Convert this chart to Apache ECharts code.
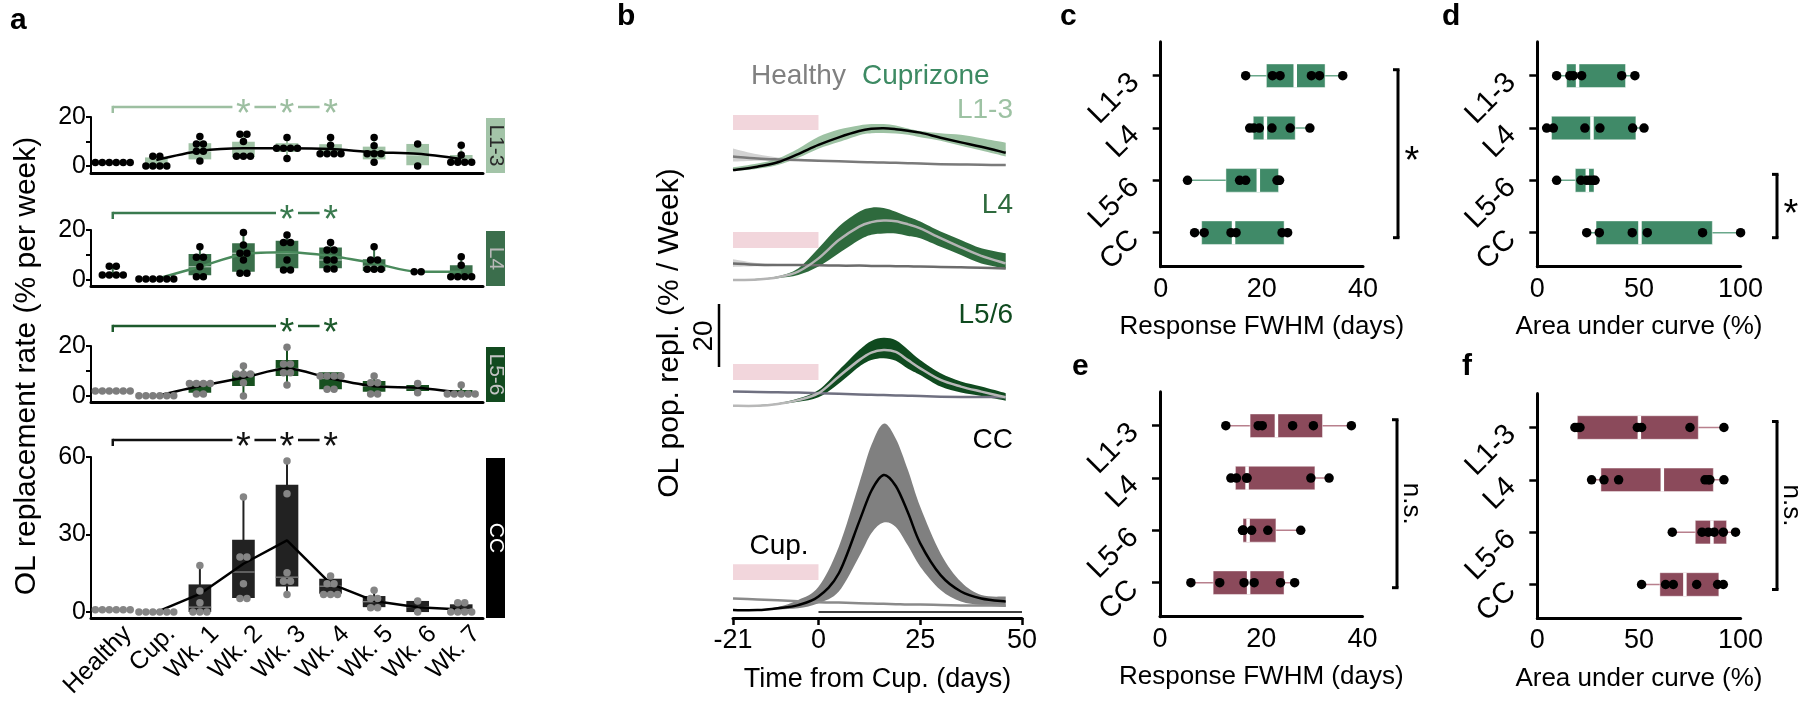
<!DOCTYPE html>
<html><head><meta charset="utf-8">
<script src="https://cdn.jsdelivr.net/npm/echarts@6/dist/echarts.min.js"></script>
<style>html,body{margin:0;padding:0;background:#fff}#c{width:1800px;height:705px}</style>
</head><body><div id="c"></div>
<script>
const FONT = 'Liberation Sans, Arial, sans-serif';

// ---------------- Panel a data ----------------
const groups = ['Healthy','Cup.','Wk. 1','Wk. 2','Wk. 3','Wk. 4','Wk. 5','Wk. 6','Wk. 7'];

const a13Pts = [[1.4,1.4,1.4,1.4,1.4,1.4],[4,4,0,0,0,0],[12,9,9,6,6,2],[13,13,10,4,4,4],[11.6,7.2,7.2,7.2,7.2,3.1],[11.6,8.5,5,5,5,5],[11.6,8.3,5,5,5,1.5],[9,0],[8.5,4.5,1.5,1.5,1.5,1.5]];
const a13Q1  = [1.4,-0.5,2.7,3.6,5.7,4.5,2.7,0.3,1.1];
const a13Med = [1.4,0,6,7,7.2,5,5,4.5,1.5];
const a13Q3  = [1.4,3.5,9.3,9.9,9.3,8.9,7.9,9,4.5];
const a13Mean = [null,2.4,6.1,7.2,7.2,6.9,5.6,5.0,2.9];
const a13Sig = [3,4,5];

const a4Pts = [[5.5,5.5,2,2,2,2],[0.4,0.4,0.4,0.4,0.4,0.4],[13.3,9.1,9.1,5.3,1.3,1.3],[19,14,10.7,10.7,8,2.7,2.7],[18,15,15,8,4,4],[15,12,12,8,8,4.4,4.4],[13.3,8,8,4.3,4.3,4.3],[3.3,3.3],[9.3,5.9,1.3,1.3,1.3,1.3]];
const a4Q1  = [2,0.4,1.9,3.3,4.7,4.7,3.6,3.3,1.1];
const a4Med = [2,0.4,5.3,10.7,10.7,8,5.5,3.3,1.3];
const a4Q3  = [2,0.4,10.4,14.7,15.7,13,8.3,3.3,5.9];
const a4Mean = [null,0.4,5.3,10.3,11.1,9.6,6.7,3.3,3.3];
const a4Sig = [4,5];

const a56Pts = [[2,2,2,2,2,2],[0.1,0.1,0.1,0.1,0.1,0.1],[5,5,5,5,0.8,0.8],[12,8.8,8.8,8.8,5.3,0],[19.5,12.8,12.8,9.3,9.3,4.4],[8,8,8,8,2.7,2.7],[8,5.3,5.3,0.8,0.8],[5,1.3],[4.4,0.8,0.8,0.8,0.8,0.8]];
const a56Q1  = [2,0.1,1.3,4,8,2.7,1.7,2,0.5];
const a56Med = [2,0.1,5,8.8,11,7,4,3,0.8];
const a56Q3  = [2,0.1,5.7,9.3,14.4,9.5,6,4.4,2.4];
const a56Mean = [null,0,4,7.3,11,7,3.9,3.3,1.3];
const a56Sig = [4,5];

const accPts = [[0.9,0.9,0.9,0.9,0.9,0.9],[0,0,0,0,0,0],[18,8.1,3.6,0,0,0],[44.5,21.3,21.3,11,5.2,5.2],[58.5,45.8,15.2,11.9,11.9,6.8],[14,11,11,6.8,6.8,6.8],[8.4,5.2,5.2,1.7,1.7],[4.3,0],[3.6,3.6,0,0,0,0]];
const accQ1  = [0.9,0,0,5.4,9.9,7.1,1.9,0,0];
const accMed = [0.9,0,1.9,15.5,13.5,10,4,2,1];
const accQ3  = [0.9,0,10.7,28,49.3,12.9,6.2,4.3,3];
const accMean = [null,0,7,18.7,27.7,11,4.3,1.9,1];
const accSig = [3,4,5];

// ---------------- Panel b data ----------------
const days = [-21,-15,-10,-5,0,5,10,13,16,19,22,25,30,35,40,46];
const b13Mean = [0.6,1.7,3.1,5.7,8.6,11,13,13.7,13.9,13.6,13.1,12.5,10.9,9.4,8,6.1];
const b13Up   = [1.5,2.7,4.3,7.4,11.2,13.5,14.8,15.2,15.2,14.8,13.8,13,12.3,11.8,10.7,9.3];
const b13Lo   = [0.2,1,2.2,4.5,7.4,9.5,11.7,12.3,12.4,12.2,11.8,11,9.9,8.3,6.8,4.9];
const b13H    = [4.9,4.3,4,3.8,3.6,3.4,3.2,3.1,3,2.9,2.8,2.7,2.5,2.4,2.3,2.2];
const b13HUp  = [7.5,5.6,4.6,4.2,3.9,3.6,3.4,3.3,3.2,3.1,3.0,2.9,2.7,2.6,2.5,2.4];
const b13HLo  = [3.3,3.6,3.5,3.4,3.3,3.2,3.0,2.9,2.8,2.7,2.6,2.5,2.3,2.2,2.1,2.0];

const b4Mean = [0.6,0.8,1.5,3.3,7.5,13.3,17.6,19,19.5,19.3,18.3,17,13.9,11,8.3,5.9];
const b4Up   = [0.8,1,1.8,4.3,10.7,17.6,22.3,23.6,23.5,22.3,20.7,19.2,16,13.3,10.7,9.1];
const b4Lo   = [0.4,0.6,1.2,2.2,4.9,9.1,13.3,15,15.4,15.4,14.6,13.9,11.2,8.6,5.9,4.3];
const b4H    = [5.9,5.5,5.4,5.4,5.3,5.2,5.2,5.1,5.1,5,5,4.9,4.8,4.7,4.5,4.3];
const b4HUp  = [7.2,6,5.7,5.6,5.5,5.4,5.4,5.3,5.3,5.2,5.2,5.1,5,4.9,4.8,4.6];
const b4HLo  = [4.8,5,5.1,5.2,5.1,5,5,4.9,4.9,4.8,4.8,4.7,4.6,4.5,4.3,4];

const b56Mean = [0.7,0.7,1.3,2.5,4.7,10,15.2,17.6,18.4,17.8,15.2,12.6,8.9,6.8,5.2,3.4];
const b56Up   = [0.9,0.9,1.5,3,5.7,12,18.4,21.3,22.3,21.5,18.5,15.2,11,8.4,6.8,4.7];
const b56Lo   = [0.5,0.5,1.1,2,3.4,7.8,13.1,15.2,15.8,15,12.5,10.5,6.8,4.9,3.8,2.3];
const b56H    = [5.2,5.1,5,4.9,4.7,4.5,4.3,4.2,4.1,4,3.9,3.8,3.6,3.5,3.5,3.4];

const bccMean = [0.6,0.6,1.2,2.2,4.9,12.3,28.7,38.5,43.5,40,31.5,21.8,11.7,6.5,4.3,3.3];
const bccUp   = [0.8,0.8,1.6,3.8,8,20.7,40.8,53,59.8,55,45,33.4,18.6,9.6,5.4,4.9];
const bccLo   = [0.4,0.4,0.8,1.2,2.8,6.5,17.6,25,28.4,27,21,14.4,7,3.3,2.2,1.7];
const bccH    = [4.3,4,3.7,3.4,3.1,3,2.8,2.7,2.6,2.5,2.4,2.4,2.2,2.1,2.1,2];
const bTicks = [-21,0,25,50];

// ---------------- Panels c-f data ----------------
const cats = ['L1-3','L4','L5-6','CC'];
const cPts = [[16.8,22.1,23.6,29.8,31.4,36],[17.6,18.4,19.5,22,25.6,29.5],[5.3,15.6,16.8,23,23.3,23.5],[6.7,8.6,13.9,14.9,24,25.1]];
const cQ1 = [20.9,18.3,12.9,8.1], cMed = [26.6,20.7,19.3,14.4], cQ3 = [32.5,26.6,23.3,24.4];
const dPts = [[9.5,16,17.7,21.8,41.5,48],[4.6,7.9,23.4,30.8,46.9,52.5],[9.5,21.5,24.3,25.9,27.5,28.4],[24.3,30.5,46.7,54.1,81.3,100]];
const dQ1 = [14.4,7,18.7,28.9], dMed = [19.8,26.9,24.6,50.5], dQ3 = [43.4,48.5,27.9,86.1];
const ePts = [[13,19.4,20.2,26.2,30.3,37.8],[14,15.1,17.1,17.2,29.8,33.4],[16.3,16.4,16.5,18.1,21.3,27.8],[6.1,11.8,16.6,18.6,23.8,26.6]];
const eQ1 = [17.8,14.9,16.4,10.5], eMed = [23,17.2,17.4,17.5], eQ3 = [32.1,30.6,22.9,24.5];
const fPts = [[18.5,19.8,21,49.2,51.3,75.1,91.8],[26.7,32.8,40,82.5,84.1,84.9,91.8],[66.4,81,84.1,87,91.5,97.5],[51.3,63.1,66.9,78.4,88.7,91.5]];
const fQ1 = [19.7,31.3,77.7,60.3], fMed = [50.2,61.5,85.9,72.6], fQ3 = [79.2,86.6,93.1,89.3];

// ---------------- layout ----------------
const aData = [
  {pts:a13Pts,q1:a13Q1,med:a13Med,q3:a13Q3,mean:a13Mean,sig:a13Sig,tag:'L1-3'},
  {pts:a4Pts,q1:a4Q1,med:a4Med,q3:a4Q3,mean:a4Mean,sig:a4Sig,tag:'L4'},
  {pts:a56Pts,q1:a56Q1,med:a56Med,q3:a56Q3,mean:a56Mean,sig:a56Sig,tag:'L5-6'},
  {pts:accPts,q1:accQ1,med:accMed,q3:accQ3,mean:accMean,sig:accSig,tag:'CC'}
];
const aLay = [
  {top:117,height:56,min:-2.86,max:20,ticks:[0,10,20],labels:[0,20],box:'#a1c3a6',med:'rgba(255,255,255,0.55)',dot:'#000',line:'#000',smooth:0.3,br:'#9dbfa1',brY:107,tagFill:'#a3c4a8',tagColor:'#2a2a2a'},
  {top:230,height:56,min:-2.4,max:20,ticks:[0,10,20],labels:[0,20],box:'#3a6f4a',med:'rgba(255,255,255,0.6)',dot:'#000',line:'#4a8a5c',smooth:0.3,br:'#3a7a4f',brY:213,tagFill:'#3b6e4c',tagColor:'#b8b8b8'},
  {top:346,height:56,min:-2.4,max:20,ticks:[0,10,20],labels:[0,20],box:'#17501f',med:'rgba(255,255,255,0.5)',dot:'#7d7d7d',line:'#000',smooth:0.3,br:'#1d5a2c',brY:326,tagFill:'#124a1f',tagColor:'#c4c4c4'},
  {top:457,height:161,min:-2.3,max:60,ticks:[0,30,60],labels:[0,30,60],box:'#222222',med:'#8a8a8a',dot:'#858585',line:'#000',smooth:0,br:'#111',brY:440,tagFill:'#000',tagColor:'#fff'}
];
const bData = [
  {mean:b13Mean,up:b13Up,lo:b13Lo,h:b13H,hUp:b13HUp,hLo:b13HLo,label:'L1-3'},
  {mean:b4Mean,up:b4Up,lo:b4Lo,h:b4H,hUp:b4HUp,hLo:b4HLo,label:'L4'},
  {mean:b56Mean,up:b56Up,lo:b56Lo,h:b56H,label:'L5/6'},
  {mean:bccMean,up:bccUp,lo:bccLo,h:bccH,label:'CC'}
];
const bLay = [
  {top:109,height:63,min:0,max:20,band:'#9dc2a3',mean:'#000',healthy:'#7a7a7a',cup:[13.3,18.1],labelColor:'#9dc2a3',labelY:110},
  {top:203.25,height:78.75,min:0,max:25,band:'#2e6a3d',mean:'#b4b4b4',healthy:'#6c6c6c',cup:[10.8,15.9],labelColor:'#2e6a3d',labelY:205},
  {top:335.55,height:72.45,min:0,max:23,band:'#0f4a1f',mean:'#b8b8b8',healthy:'#6f7080',cup:[8.9,14],labelColor:'#0f4a1f',labelY:315},
  {top:416.7,height:201.3,min:-1.9,max:62,band:'#808080',mean:'#000',healthy:'#8a8a8a',cup:[10.2,15.2],labelColor:'#000',labelY:440,zeroLine:true}
];
const cfData = [
  {pts:cPts,q1:cQ1,med:cMed,q3:cQ3},
  {pts:dPts,q1:dQ1,med:dMed,q3:dQ3},
  {pts:ePts,q1:eQ1,med:eMed,q3:eQ3},
  {pts:fPts,q1:fQ1,med:fMed,q3:fQ3}
];
const GREEN = '#408a68', GREENW = '#6aa88b', MAROON = '#8b4a5b', MAROONW = '#b8808d';
const cfLay = [
  {left:1160.7,top:41.7,width:202.3,max:40,interval:20,name:'Response FWHM (days)',fill:GREEN,whisk:GREENW,brX:1398,brFrom:1,brTo:4,brText:'*'},
  {left:1537.3,top:41.7,width:203.3,max:100,interval:50,name:'Area under curve (%)',fill:GREEN,whisk:GREENW,brX:1777,brFrom:3,brTo:4,brText:'*'},
  {left:1160,top:391.7,width:202.5,max:40,interval:20,name:'Response FWHM (days)',fill:MAROON,whisk:MAROONW,brX:1397,brFrom:1,brTo:4,brText:'n.s.'},
  {left:1537.3,top:393.5,width:203.3,max:100,interval:50,name:'Area under curve (%)',fill:MAROON,whisk:MAROONW,brX:1777,brFrom:1,brTo:4,brText:'n.s.'}
];

// ---------------- helpers ----------------
function swarm(vals, i, spacing){
  const s = vals.slice().sort((a,b)=>b-a);
  const gs = []; let cur = [s[0]];
  for (let k=1;k<s.length;k++){ if (Math.abs(s[k]-cur[0])<0.6) cur.push(s[k]); else { gs.push(cur); cur=[s[k]]; } }
  gs.push(cur);
  const out = [];
  gs.forEach(g=>g.forEach((v,j)=>out.push([i+(j-(g.length-1)/2)*spacing, v])));
  return out;
}
function vBox(color, medColor){
  return function(params, api){
    const i=api.value(0), q1=api.value(1), med=api.value(2), q3=api.value(3), lo=api.value(4), hi=api.value(5);
    const w = api.size([0.52,0])[0];
    const pT=api.coord([i,q3]), pB=api.coord([i,q1]), pM=api.coord([i,med]), pL=api.coord([i,lo]), pH=api.coord([i,hi]);
    const x = pT[0];
    const ch = [{type:'line',shape:{x1:x,y1:pH[1],x2:x,y2:pL[1]},style:{stroke:color,lineWidth:2}}];
    if (pB[1]-pT[1] > 1) {
      ch.push({type:'rect',shape:{x:x-w/2,y:pT[1],width:w,height:pB[1]-pT[1]},style:{fill:color}});
      ch.push({type:'line',shape:{x1:x-w/2,y1:pM[1],x2:x+w/2,y2:pM[1]},style:{stroke:medColor,lineWidth:1.2}});
    }
    return {type:'group',children:ch};
  };
}
function hBox(fill, whisk){
  return function(params, api){
    const c=api.value(0), q1=api.value(1), med=api.value(2), q3=api.value(3), lo=api.value(4), hi=api.value(5);
    const p1=api.coord([q1,c]), p3=api.coord([q3,c]), pm=api.coord([med,c]), pl=api.coord([lo,c]), ph=api.coord([hi,c]);
    const h = Math.abs(api.size([0,0.45])[1]);
    const y = p1[1];
    return {type:'group',children:[
      {type:'line',shape:{x1:pl[0],y1:y,x2:ph[0],y2:y},style:{stroke:whisk,lineWidth:1.5}},
      {type:'rect',shape:{x:p1[0],y:y-h/2,width:p3[0]-p1[0],height:h},style:{fill:fill,stroke:'rgba(255,255,255,0.45)',lineWidth:1}},
      {type:'line',shape:{x1:pm[0],y1:y-h/2,x2:pm[0],y2:y+h/2},style:{stroke:'#fff',lineWidth:3.5}}
    ]};
  };
}
// Catmull-Rom cubic segments through pixel points
function crSeg(P){
  let s='';
  for (let i=0;i<P.length-1;i++){
    const p0=P[Math.max(i-1,0)], p1=P[i], p2=P[i+1], p3=P[Math.min(i+2,P.length-1)];
    const c1=[p1[0]+(p2[0]-p0[0])/6, p1[1]+(p2[1]-p0[1])/6];
    const c2=[p2[0]-(p3[0]-p1[0])/6, p2[1]-(p3[1]-p1[1])/6];
    s+=' C'+c1[0].toFixed(2)+' '+c1[1].toFixed(2)+' '+c2[0].toFixed(2)+' '+c2[1].toFixed(2)+' '+p2[0].toFixed(2)+' '+p2[1].toFixed(2);
  }
  return s;
}
function curvePath(api, arr){
  const P = days.map((d,i)=>api.coord([d, arr[i]]));
  return 'M'+P[0][0].toFixed(2)+' '+P[0][1].toFixed(2)+crSeg(P);
}
function bandPath(api, lo, up){
  const U = days.map((d,i)=>api.coord([d, up[i]]));
  const L = days.map((d,i)=>api.coord([d, lo[i]])).reverse();
  return 'M'+U[0][0].toFixed(2)+' '+U[0][1].toFixed(2)+crSeg(U)+' L'+L[0][0].toFixed(2)+' '+L[0][1].toFixed(2)+crSeg(L)+' Z';
}
function bPanel(D, L){
  return function(params, api){
    if (params.dataIndex !== 0) return null;
    const ch = [];
    const c0 = api.coord([-21, L.cup[1]]), c1 = api.coord([0, L.cup[0]]);
    ch.push({type:'rect', shape:{x:c0[0], y:c0[1], width:c1[0]-c0[0], height:c1[1]-c0[1]}, style:{fill:'#f2d6dc'}});
    if (D.hUp) ch.push({type:'path', shape:{pathData:bandPath(api, D.hLo, D.hUp)}, style:{fill:'#d3d3d3'}});
    ch.push({type:'path', shape:{pathData:bandPath(api, D.lo, D.up)}, style:{fill:L.band}});
    ch.push({type:'path', shape:{pathData:curvePath(api, D.h)}, style:{fill:null, stroke:L.healthy, lineWidth:2.5}});
    ch.push({type:'path', shape:{pathData:curvePath(api, D.mean)}, style:{fill:null, stroke:L.mean, lineWidth:2.5}});
    if (L.zeroLine) {
      const z0 = api.coord([0,0]), z1 = api.coord([50,0]);
      ch.push({type:'line', shape:{x1:z0[0],y1:z0[1],x2:z1[0],y2:z1[1]}, style:{stroke:'#000',lineWidth:1.5}});
    }
    return {type:'group', children:ch};
  };
}

// ---------------- build option ----------------
const grid=[], xAxis=[], yAxis=[], series=[];
const txt = {color:'#000', fontFamily:FONT};

// Panel a
aData.forEach((D,k)=>{
  const L = aLay[k];
  grid.push({left:91, top:L.top, width:392, height:L.height, containLabel:false, outerBoundsMode:'none'});
  xAxis.push({gridIndex:k, type:'value', min:-0.5, max:8.5, splitLine:{show:false},
    axisLine:{show:true,onZero:false,lineStyle:{color:'#000',width:3}}, axisTick:{show:false}, axisLabel:{show:false}});
  yAxis.push({gridIndex:k, type:'value', min:L.min, max:L.max, splitLine:{show:false},
    axisLine:{show:true,onZero:false,lineStyle:{color:'#000',width:2}},
    axisTick:{show:true, customValues:L.ticks, length:5, lineStyle:{color:'#000',width:2}},
    axisLabel:Object.assign({customValues:L.labels, fontSize:25, margin:5}, txt)});
  series.push({type:'custom', xAxisIndex:k, yAxisIndex:k, silent:true, z:2, renderItem:vBox(L.box, L.med),
    encode:{x:0,y:[1,2,3,4,5]},
    data: groups.map((g,i)=>[i, D.q1[i], D.med[i], D.q3[i], Math.min(...D.pts[i]), Math.max(...D.pts[i])])});
  series.push({type:'line', xAxisIndex:k, yAxisIndex:k, silent:true, z:3, symbol:'none', smooth:L.smooth,
    lineStyle:{color:L.line,width:2.5},
    data: D.mean.map((v,i)=>v==null?null:[i,v]).filter(d=>d)});
  let dots = [];
  D.pts.forEach((vals,i)=>{ dots = dots.concat(swarm(vals,i,0.16)); });
  series.push({type:'scatter', xAxisIndex:k, yAxisIndex:k, silent:true, z:4, symbolSize:7.5,
    itemStyle:{color:L.dot, opacity:1}, data:dots});
});

// Panel b
bData.forEach((D,j)=>{
  const k = 4+j, L = bLay[j];
  grid.push({left:733, top:L.top, width:289, height:L.height, containLabel:false, outerBoundsMode:'none'});
  xAxis.push({gridIndex:k, type:'value', min:-21, max:50, show: j===3, splitLine:{show:false},
    axisLine:{show:true,onZero:false,lineStyle:{color:'#000',width:3}},
    axisTick:{show:true, customValues:bTicks, length:7, lineStyle:{color:'#000',width:2.5}},
    axisLabel:Object.assign({customValues:bTicks, fontSize:27, margin:9}, txt),
    name: j===3 ? 'Time from Cup. (days)' : '', nameLocation:'middle', nameGap:48, nameMoveOverlap:false,
    nameTextStyle:Object.assign({fontSize:27}, txt)});
  yAxis.push({gridIndex:k, type:'value', min:L.min, max:L.max, show:false, splitLine:{show:false}});
  series.push({type:'custom', xAxisIndex:k, yAxisIndex:k, silent:true, z:2, renderItem:bPanel(D, L),
    encode:{x:0, y:[1,2,3,4]},
    data: days.map((d,i)=>[d, D.lo[i], D.up[i], D.mean[i], D.h[i]])});
});

// Panels c-f
cfData.forEach((D,j)=>{
  const k = 8+j, L = cfLay[j];
  grid.push({left:L.left, top:L.top, width:L.width, height:225, containLabel:false, outerBoundsMode:'none'});
  xAxis.push({gridIndex:k, type:'value', min:0, max:L.max, interval:L.interval, splitLine:{show:false},
    axisLine:{show:true,onZero:false,lineStyle:{color:'#000',width:3}}, axisTick:{show:false},
    axisLabel:Object.assign({fontSize:27, margin:9}, txt),
    name:L.name, nameLocation:'middle', nameGap:47, nameMoveOverlap:false, nameTextStyle:Object.assign({fontSize:26}, txt)});
  yAxis.push({gridIndex:k, type:'value', min:0.35, max:4.65, inverse:true, splitLine:{show:false},
    axisLine:{show:true,onZero:false,lineStyle:{color:'#000',width:3}},
    axisTick:{show:true, customValues:[1,2,3,4], length:8, lineStyle:{color:'#000',width:2.5}},
    axisLabel:{show:false}});
  series.push({type:'custom', xAxisIndex:k, yAxisIndex:k, silent:true, z:2, renderItem:hBox(L.fill, L.whisk),
    encode:{x:[1,2,3,4,5], y:0},
    data: cats.map((c,i)=>[i+1, D.q1[i], D.med[i], D.q3[i], Math.min(...D.pts[i]), Math.max(...D.pts[i])])});
  let dots=[];
  D.pts.forEach((vals,i)=>vals.forEach(v=>dots.push([v, i+1])));
  series.push({type:'scatter', xAxisIndex:k, yAxisIndex:k, silent:true, z:4, symbolSize:9.5, itemStyle:{color:'#000', opacity:1}, data:dots});
});

const chart = echarts.init(document.getElementById('c'), null, {width:1800, height:705});
chart.setOption({animation:false, backgroundColor:'#fff', textStyle:{fontFamily:FONT}, grid, xAxis, yAxis, series});

// ---------------- annotations ----------------
const G = [];
function T(text, x, y, o){
  o = o || {};
  G.push({type:'text', x, y, rotation:o.rot||0, z:10, silent:true,
    style:{text, fill:o.color||'#000', fontSize:o.size||28, fontWeight:o.bold?'bold':'normal', fontFamily:FONT,
      align:o.align||'center', verticalAlign:o.va||'middle'}});
}
function Ln(x1,y1,x2,y2,color,w){
  G.push({type:'line', z:10, silent:true, shape:{x1,y1,x2,y2}, style:{stroke:color,lineWidth:w||2.5}});
}
// panel letters
T('a',10,6,{bold:true,size:30,align:'left',va:'top'});
T('b',617,2,{bold:true,size:30,align:'left',va:'top'});
T('c',1060,2,{bold:true,size:30,align:'left',va:'top'});
T('d',1442,2,{bold:true,size:30,align:'left',va:'top'});
T('e',1072,352,{bold:true,size:30,align:'left',va:'top'});
T('f',1462,352,{bold:true,size:30,align:'left',va:'top'});

// panel a: axis title, category labels, layer tags, brackets
T('OL replacement rate (% per week)', 27, 366, {rot:Math.PI/2, size:30});
groups.forEach((g,i)=>{
  const x = chart.convertToPixel({xAxisIndex:3}, i);
  T(g, x+15, 630, {rot:Math.PI/4, size:25, align:'right'});
});
aData.forEach((D,k)=>{
  const L = aLay[k];
  G.push({type:'rect', z:10, silent:true, shape:{x:486,y:L.top+1,width:19,height:L.height-1}, style:{fill:L.tagFill}});
  T(D.tag, 495.5, L.top+1+(L.height-1)/2, {rot:-Math.PI/2, size:21, color:L.tagColor});
  const xs = groups.map((g,i)=>chart.convertToPixel({xAxisIndex:k}, i));
  const y = L.brY;
  Ln(xs[0], y+6, xs[0], y-1.2, L.br);
  let start = xs[0];
  D.sig.forEach(i=>{
    Ln(start, y, xs[i]-11, y, L.br);
    T('*', xs[i], y+9, {size:38, color:L.br});
    start = xs[i]+11;
  });
});

// panel b texts
T('Healthy', 751, 76, {align:'left', size:28, color:'#808080'});
T('Cuprizone', 862, 76, {align:'left', size:28, color:'#3d8a63'});
bData.forEach((D,j)=>T(D.label, 1013, bLay[j].labelY, {align:'right', size:28, color:bLay[j].labelColor}));
T('Cup.', 779, 546, {size:28});
T('OL pop. repl. (% / Week)', 670, 333, {rot:Math.PI/2, size:30});
const sb0 = chart.convertToPixel({yAxisIndex:6}, 0), sb20 = chart.convertToPixel({yAxisIndex:6}, 20);
Ln(719, 367, 719, 367-(sb0-sb20), '#000', 2.5);
T('20', 704, 336, {rot:Math.PI/2, size:28});

// panels c-f: category labels and brackets
cfLay.forEach((L,j)=>{
  const k = 8+j;
  cats.forEach((c,i)=>{
    const y = chart.convertToPixel({yAxisIndex:k}, i+1);
    T(c, L.left-26, y+2.5, {rot:Math.PI/4, size:29, align:'right'});
  });
  const y1 = chart.convertToPixel({yAxisIndex:k}, L.brFrom) - 6;
  const y2 = chart.convertToPixel({yAxisIndex:k}, L.brTo) + 5;
  Ln(L.brX, y1, L.brX, y2, '#000', 3);
  Ln(L.brX-5, y1, L.brX+1.5, y1, '#000', 3);
  Ln(L.brX-5, y2, L.brX+1.5, y2, '#000', 3);
  if (L.brText === '*') T('*', L.brX+14, (y1+y2)/2+9, {size:38});
  else T('n.s.', L.brX+14, (y1+y2)/2, {rot:-Math.PI/2, size:26});
});

chart.setOption({graphic:{elements:G}});
</script>
</body></html>
